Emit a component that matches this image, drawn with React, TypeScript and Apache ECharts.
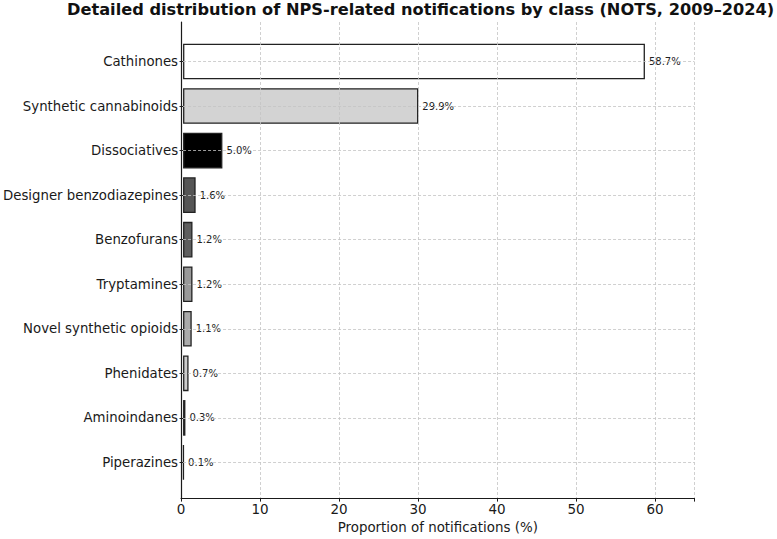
import * as echarts from "echarts"
import { useEffect, useRef } from "react"

const categories = [
  "Cathinones",
  "Synthetic cannabinoids",
  "Dissociatives",
  "Designer benzodiazepines",
  "Benzofurans",
  "Tryptamines",
  "Novel synthetic opioids",
  "Phenidates",
  "Aminoindanes",
  "Piperazines",
]
const shares = [58.7, 29.9, 5.0, 1.6, 1.2, 1.2, 1.1, 0.7, 0.3, 0.1]
const fills = [
  "#ffffff",
  "#d3d3d3",
  "#000000",
  "#555555",
  "#5e5e5e",
  "#999999",
  "#aaaaaa",
  "#cccccc",
  "#888888",
  "#333333",
]
const xTicks = [0, 10, 20, 30, 40, 50, 60]

const FONT = "DejaVu Sans, sans-serif"
const INK = "#1a1a1a"
const GRID = "#c4c4c4"

export default function App() {
  const node = useRef<HTMLDivElement>(null)

  useEffect(() => {
    document.body.style.margin = "0"
    if (!node.current) return
    const chart = echarts.init(node.current, undefined, { renderer: "svg" })
    chart.setOption({
      animation: false,
      textStyle: { fontFamily: FONT, color: INK },
      title: {
        text: "Detailed distribution of NPS-related notifications by class (NOTS, 2009–2024)",
        left: 67,
        top: 0,
        padding: [1, 0, 0, 0],
        textStyle: {
          fontFamily: FONT,
          fontSize: 16.2,
          fontWeight: "bold",
          color: "#111",
        },
      },
      grid: [
        // frame: spines + vertical grid lines (matplotlib-style margins)
        { left: 181, right: 82.5, top: 22, height: 479.5, containLabel: false },
        // bars
        { left: 181, right: 82.5, top: 39.2, height: 445.5, containLabel: false },
      ],
      xAxis: [
        {
          gridIndex: 0,
          type: "value",
          min: 0,
          max: 65,
          interval: 10,
          z: 10,
          name: "Proportion of notifications (%)",
          nameLocation: "middle",
          nameGap: 20,
          nameTextStyle: { fontFamily: FONT, fontSize: 13.4, color: INK },
          axisLine: { lineStyle: { color: INK, width: 1.2 } },
          axisTick: { show: true, length: 3.5, lineStyle: { color: INK } },
          axisLabel: {
            fontFamily: FONT,
            fontSize: 13.5,
            color: INK,
            margin: 4,
            customValues: xTicks,
          },
          splitLine: {
            show: true,
            lineStyle: { color: GRID, type: [3, 2], width: 0.8 },
          },
        },
        {
          gridIndex: 1,
          type: "value",
          min: 0,
          max: 65,
          show: false,
        },
      ],
      yAxis: [
        {
          gridIndex: 0,
          type: "value",
          min: 0,
          max: 1,
          z: 10,
          axisLine: { show: true, lineStyle: { color: INK, width: 1.2 } },
          axisTick: { show: false },
          axisLabel: { show: false },
          splitLine: { show: false },
        },
        {
          gridIndex: 1,
          type: "category",
          inverse: true,
          data: categories,
          axisLine: { show: false },
          axisTick: {
            show: true,
            alignWithLabel: true,
            length: 3.5,
            lineStyle: { color: INK },
          },
          axisLabel: {
            fontFamily: FONT,
            fontSize: 13.3,
            color: INK,
            margin: 5,
          },
          splitLine: { show: false },
        },
      ],
      series: [
        {
          type: "bar",
          xAxisIndex: 1,
          yAxisIndex: 1,
          barWidth: "80%",
          data: shares.map((value, i) => ({
            value,
            itemStyle: { color: fills[i] },
          })),
          itemStyle: { borderColor: "#222", borderWidth: 1.3 },
          label: {
            show: true,
            position: "right",
            distance: 4,
            fontFamily: FONT,
            fontSize: 10,
            color: "#222",
            formatter: (p: { value: number }) => `${p.value.toFixed(1)}%`,
          },
          markLine: {
            silent: true,
            symbol: "none",
            label: { show: false },
            lineStyle: { color: GRID, type: [3, 2], width: 0.8 },
            data: categories.map((_, i) => ({ yAxis: i })),
          },
          emphasis: { disabled: true },
        },
      ],
    })
    return () => chart.dispose()
  }, [])

  return <div ref={node} style={{ width: 777, height: 539 }} />
}
